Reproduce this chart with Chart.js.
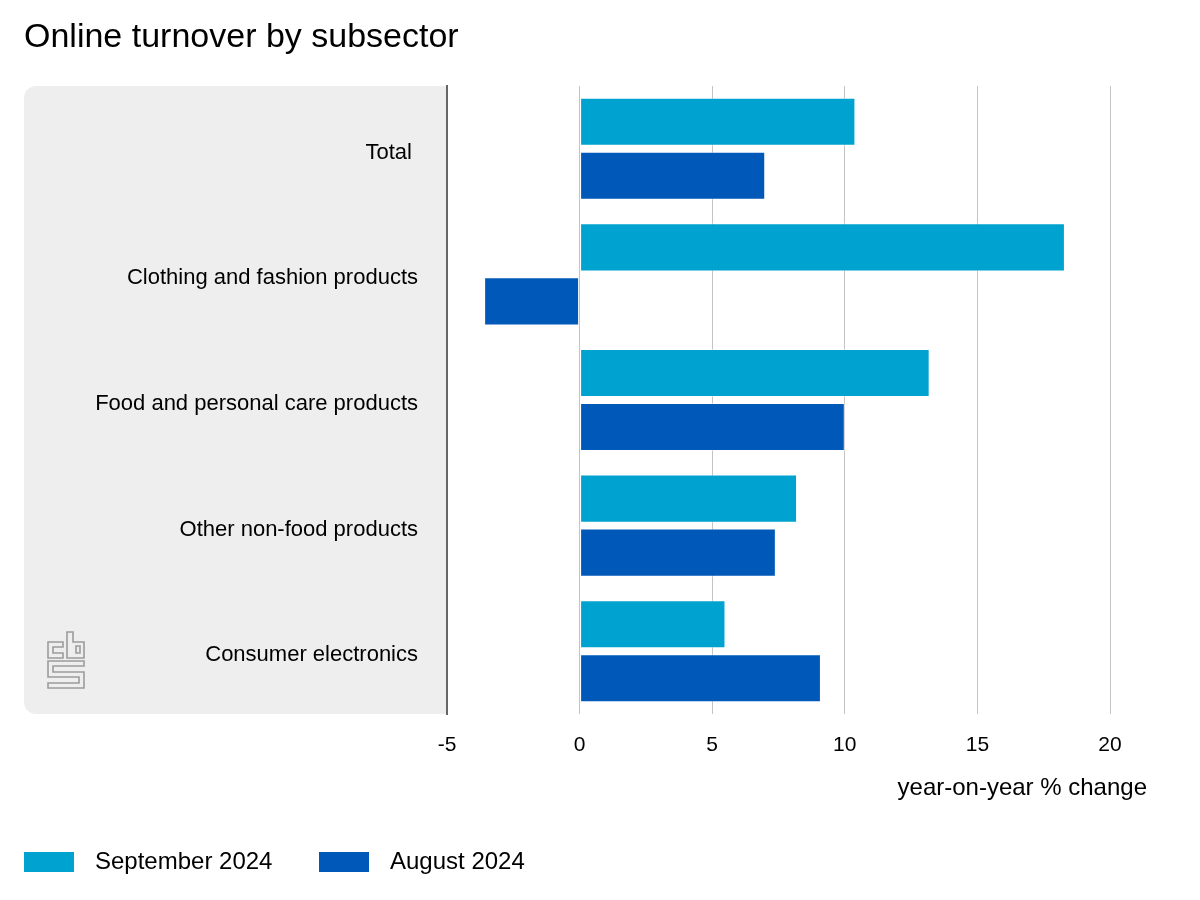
<!DOCTYPE html>
<html>
<head>
<meta charset="utf-8">
<script src="https://cdn.jsdelivr.net/npm/chart.js@4"></script>
<style>
  html, body { margin: 0; padding: 0; background: #fff; }
  #wrap { width: 1200px; height: 900px; position: relative; }
</style>
</head>
<body>
<div id="wrap"><canvas id="grafico" width="1200" height="900"></canvas></div>
<script>
// ===================== DATA =====================
const titulo = "Online turnover by subsector";
const categorias = [
    "Total ",
    "Clothing and fashion products",
    "Food and personal care products",
    "Other non-food products",
    "Consumer electronics"
];
const serieNomes = ["September 2024", "August 2024"];
const valoresSetembro = [10.4, 18.3, 13.2, 8.2, 5.5];
const valoresAgosto = [7.0, -3.6, 10.0, 7.4, 9.1];
const cores = ["#00a2cf", "#0058b8"];
const eixoX = { min: -5, max: 20, passo: 5 };
const tituloEixoX = "year-on-year % change";

const FONTE = "'Liberation Sans', Arial, Helvetica, sans-serif";

// ===================== PLUGINS =====================
// painel cinza atrás dos rótulos + logo + título + legenda
const pluginFundo = {
    id: "fundo",
    beforeDraw(chart) {
        const c = chart.ctx;
        const area = chart.chartArea;
        c.save();
        c.fillStyle = "#eeeeee";
        c.beginPath();
        c.roundRect(24, area.top, area.left - 24, area.bottom - area.top, [12, 0, 0, 12]);
        c.fill();

        // logo cbs simplificado
        c.strokeStyle = "#9c9c9c";
        c.lineWidth = 1.6;
        c.beginPath();
        // c
        c.moveTo(63, 642); c.lineTo(48, 642); c.lineTo(48, 658); c.lineTo(63, 658);
        c.lineTo(63, 653); c.lineTo(53, 653); c.lineTo(53, 647); c.lineTo(63, 647); c.closePath();
        // b
        c.moveTo(67, 632); c.lineTo(73, 632); c.lineTo(73, 642); c.lineTo(84, 642);
        c.lineTo(84, 658); c.lineTo(67, 658); c.closePath();
        c.rect(76, 646, 4, 7);
        // s
        c.moveTo(48, 661); c.lineTo(84, 661); c.lineTo(84, 666); c.lineTo(53, 666);
        c.lineTo(53, 672); c.lineTo(84, 672); c.lineTo(84, 688); c.lineTo(48, 688);
        c.lineTo(48, 683); c.lineTo(79, 683); c.lineTo(79, 677); c.lineTo(48, 677); c.closePath();
        c.stroke();
        c.restore();
    },
    afterDraw(chart) {
        const c = chart.ctx;
        c.save();
        c.fillStyle = "#000";
        c.textBaseline = "alphabetic";
        c.textAlign = "left";
        c.font = "34px " + FONTE;
        c.fillText(titulo, 24, 47);

        c.font = "24px " + FONTE;
        c.textAlign = "right";
        c.fillText(tituloEixoX, 1147, 795);

        // legenda
        c.textAlign = "left";
        c.textBaseline = "middle";
        c.font = "24px " + FONTE;
        let x = 24;
        chart.data.datasets.forEach((ds, i) => {
            c.fillStyle = ds.backgroundColor;
            c.fillRect(x, 852, 50, 20);
            c.fillStyle = "#000";
            c.fillText(ds.label, x + 71, 862);
            x += 295;
        });
        c.restore();
    }
};

// ===================== GRÁFICO =====================
const ctx = document.getElementById("grafico");

new Chart(ctx, {
    type: "bar",
    data: {
        labels: categorias,
        datasets: [
            {
                label: serieNomes[0],
                data: valoresSetembro,
                backgroundColor: cores[0],
                borderColor: "rgba(255,255,255,0.45)",
                borderWidth: 1,
                borderSkipped: false
            },
            {
                label: serieNomes[1],
                data: valoresAgosto,
                backgroundColor: cores[1],
                borderColor: "rgba(255,255,255,0.45)",
                borderWidth: 1,
                borderSkipped: false
            }
        ]
    },
    options: {
        indexAxis: "y",
        responsive: false,
        animation: false,
        categoryPercentage: 0.86,
        barPercentage: 0.89,
        layout: {
            padding: { top: 86, right: 90, bottom: 0, left: 0 }
        },
        plugins: {
            legend: { display: false },
            title: { display: false },
            tooltip: { enabled: false }
        },
        scales: {
            x: {
                min: eixoX.min,
                max: eixoX.max,
                ticks: {
                    stepSize: eixoX.passo,
                    padding: 19,
                    color: "#000",
                    font: { family: FONTE, size: 21 }
                },
                grid: {
                    drawTicks: false,
                    color: (c) => c.tick && c.tick.value === eixoX.min ? "rgba(0,0,0,0)" : "#c4c4c4",
                    lineWidth: 1
                },
                border: { display: false },
                afterFit(scale) { scale.height = 186; }
            },
            y: {
                ticks: {
                    padding: 29,
                    labelOffset: 4,
                    color: "#000",
                    font: { family: FONTE, size: 22 }
                },
                grid: { display: false, drawTicks: false },
                border: { display: true, color: "#666666", width: 2 },
                afterFit(scale) { scale.width = 447; }
            }
        }
    },
    plugins: [pluginFundo]
});
</script>
</body>
</html>
